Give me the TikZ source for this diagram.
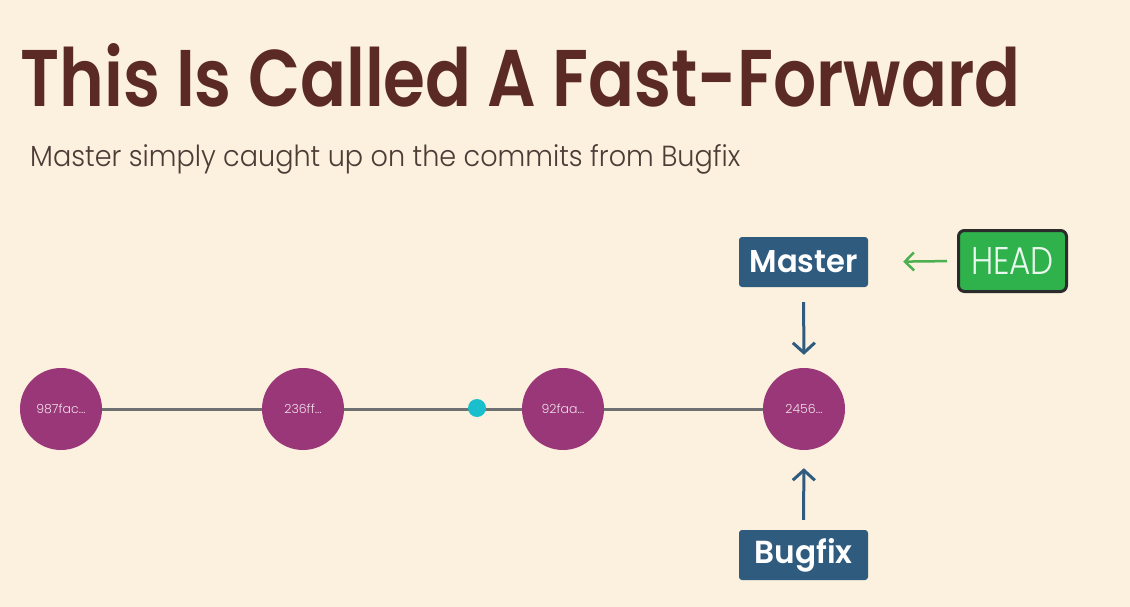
\documentclass[tikz,border=0pt]{standalone}
\usepackage{graphicx}
\usepackage{fontspec}
\setmainfont{Poppins}
\newfontfamily\titlefont{Poppins SemiBold}
\newfontfamily\lightfont{Poppins Light}
\newfontfamily\labelfont{Poppins SemiBold}
\usetikzlibrary{arrows.meta}
\definecolor{bgc}{HTML}{FCF0DE}
\definecolor{titlec}{HTML}{5B2A24}
\definecolor{subc}{HTML}{4D3B36}
\definecolor{commitc}{HTML}{9A3778}
\definecolor{linec}{HTML}{6E7072}
\definecolor{cyanc}{HTML}{19BFCC}
\definecolor{bluec}{HTML}{2F5B7F}
\definecolor{greenc}{HTML}{2FB24C}
\definecolor{greenarr}{HTML}{4CB050}
\definecolor{borderc}{HTML}{2B2B2B}
\tikzset{
  commit/.style={circle, fill=commitc, minimum size=82pt, inner sep=0pt, text=white!85!commitc, font=\lightfont\fontsize{12.5}{12.5}\selectfont},
  commitline/.style={draw=linec, line width=3pt},
  branch/.style={rectangle, rounded corners=3pt, fill=bluec, minimum width=129pt, minimum height=50pt, inner sep=0pt, text=white},
  headbox/.style={rectangle, rounded corners=6pt, fill=greenc, draw=borderc, line width=3pt, minimum width=108pt, minimum height=61pt, inner sep=0pt, text=white!90!greenc},
  bluearrow/.style={draw=bluec, line width=3pt, -{Straight Barb[length=10pt,width=22pt]}},
  greenarrow/.style={draw=greenarr, line width=2.5pt, -{Straight Barb[length=9pt,width=18pt]}},
}
\begin{document}
\begin{tikzpicture}[x=1pt,y=-1pt]
\useasboundingbox (0,0) rectangle (1130,607);
\fill[bgc] (0,0) rectangle (1130,607);
\node[anchor=base west, inner sep=0pt, text=titlec] (title) at (20,107) {\resizebox{1000pt}{63pt}{\titlefont This Is Called A Fast-Forward}};
\node[anchor=base west, inner sep=0pt, text=subc] (sub) at (30,167) {\resizebox{710pt}{22pt}{\lightfont Master simply caught up on the commits from Bugfix}};
\node[commit] (c1) at (61,409) {987fac...};
\node[commit] (c2) at (303,409) {236ff...};
\node[commit] (c3) at (563,409) {92faa...};
\node[commit] (c4) at (804,409) {2456...};
\draw[commitline] (c1) -- (c2);
\draw[commitline] (c2) -- (c3);
\draw[commitline] (c3) -- (c4);
\node[circle, fill=cyanc, minimum size=18pt, inner sep=0pt] (dot) at (477,408) {};
\node[branch] (master) at (803.5,262) {\resizebox{108pt}{22pt}{\labelfont Master}};
\node[branch] (bugfix) at (803.5,555) {\resizebox{98pt}{25pt}{\labelfont Bugfix}};
\node[headbox] (head) at (1012.5,261) {\resizebox{83pt}{27pt}{\lightfont HEAD}};
\draw[bluearrow, shorten <=15pt, shorten >=13pt] (master.south) -- (c4.north);
\draw[bluearrow, shorten <=10pt, shorten >=18pt] (bugfix.north) -- (c4.south);
\draw[greenarrow, shorten <=10pt, shorten >=35pt] (head.west) -- (master.east);
\end{tikzpicture}
\end{document}
